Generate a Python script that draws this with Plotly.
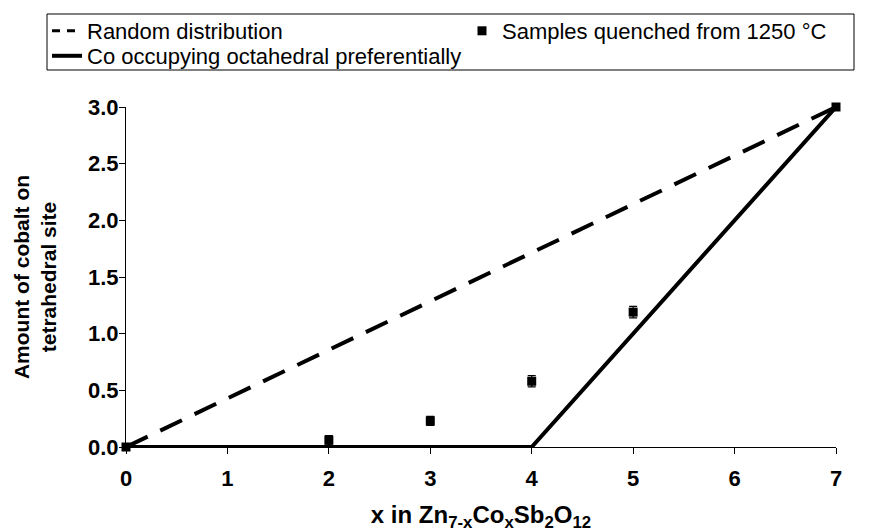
import plotly.graph_objects as go

# Data
x_random = [0, 7]
y_random = [0, 3]
x_octa = [0, 4, 7]
y_octa = [0, 0, 3]
x_samples = [0, 2, 3, 4, 5, 7]
y_samples = [0.0, 0.06, 0.23, 0.58, 1.19, 3.0]
err_samples = [0.02, 0.04, 0.04, 0.05, 0.05, 0.02]
x_ticks = [0, 1, 2, 3, 4, 5, 6, 7]
y_ticks = [0.0, 0.5, 1.0, 1.5, 2.0, 2.5, 3.0]
y_ticklabels = ["0.0", "0.5", "1.0", "1.5", "2.0", "2.5", "3.0"]

font_family = "Liberation Sans, Arial, sans-serif"

W, H = 870, 532
plot_l, plot_r, plot_t, plot_b = 126, 836, 107, 447
pw, ph = plot_r - plot_l, plot_b - plot_t


def px_x(p):
    return (p - plot_l) / pw


def px_y(p):
    return (plot_b - p) / ph


fig = go.Figure()
# legend entry for the dashed line (short dashes as in the reference legend)
fig.add_trace(go.Scatter(
    x=[None], y=[None], mode="lines", name="Random distribution",
    line=dict(color="black", width=3, dash="8px,7px"), legend="legend"))
fig.add_trace(go.Scatter(
    x=x_samples, y=y_samples, mode="markers", name="Samples quenched from 1250 °C",
    marker=dict(symbol="square", size=9, color="black"),
    error_y=dict(type="data", array=err_samples, color="black", thickness=1.2, width=4),
    cliponaxis=False, legend="legend2"))
fig.add_trace(go.Scatter(
    x=x_octa, y=y_octa, mode="lines", name="Co occupying octahedral preferentially",
    line=dict(color="black", width=4), cliponaxis=False, legend="legend3"))
fig.add_trace(go.Scatter(
    x=x_random, y=y_random, mode="lines", name="Random distribution",
    line=dict(color="black", width=4, dash="24px,14px"), cliponaxis=False,
    showlegend=False))

leg_font = dict(size=22, family=font_family, color="black")
leg_common = dict(xref="paper", yref="paper", xanchor="left", yanchor="top",
                  font=leg_font, bgcolor="rgba(0,0,0,0)", borderwidth=0, itemwidth=30)

fig.update_layout(
    width=W, height=H,
    margin=dict(l=plot_l, r=W - plot_r, t=plot_t, b=H - plot_b, autoexpand=False),
    paper_bgcolor="white", plot_bgcolor="white",
    font=dict(family=font_family, color="black"),
    showlegend=True,
    legend=dict(x=px_x(47), y=px_y(10), **leg_common),
    legend2=dict(x=px_x(462), y=px_y(10), **leg_common),
    legend3=dict(x=px_x(47), y=px_y(35), **leg_common),
    shapes=[dict(type="rect", xref="paper", yref="paper",
                 x0=px_x(47), x1=px_x(854), y0=px_y(14), y1=px_y(70),
                 line=dict(color="black", width=1), fillcolor="rgba(0,0,0,0)", layer="below")],
    xaxis=dict(
        range=[0, 7], tickvals=x_ticks, showgrid=False, zeroline=False,
        showline=True, linecolor="black", linewidth=1, automargin=False,
        ticks="outside", ticklen=6, tickcolor="black", ticklabelstandoff=6,
        tickfont=dict(size=22, family=font_family, weight="bold"),
        title=dict(text="x in Zn<sub>7-x</sub>Co<sub>x</sub>Sb<sub>2</sub>O<sub>12</sub>",
                   font=dict(size=24, family=font_family, weight="bold"), standoff=25),
    ),
    yaxis=dict(
        range=[0, 3], tickvals=y_ticks, ticktext=y_ticklabels, showgrid=False, zeroline=False,
        showline=True, linecolor="black", linewidth=1, automargin=False,
        ticks="outside", ticklen=6, tickcolor="black", ticklabelstandoff=-4,
        tickfont=dict(size=22, family=font_family, weight="bold"),
        title=dict(text="Amount of cobalt on<br>tetrahedral site",
                   font=dict(size=21, family=font_family, weight="bold"), standoff=25),
    ),
)

fig.write_html("out.html")
